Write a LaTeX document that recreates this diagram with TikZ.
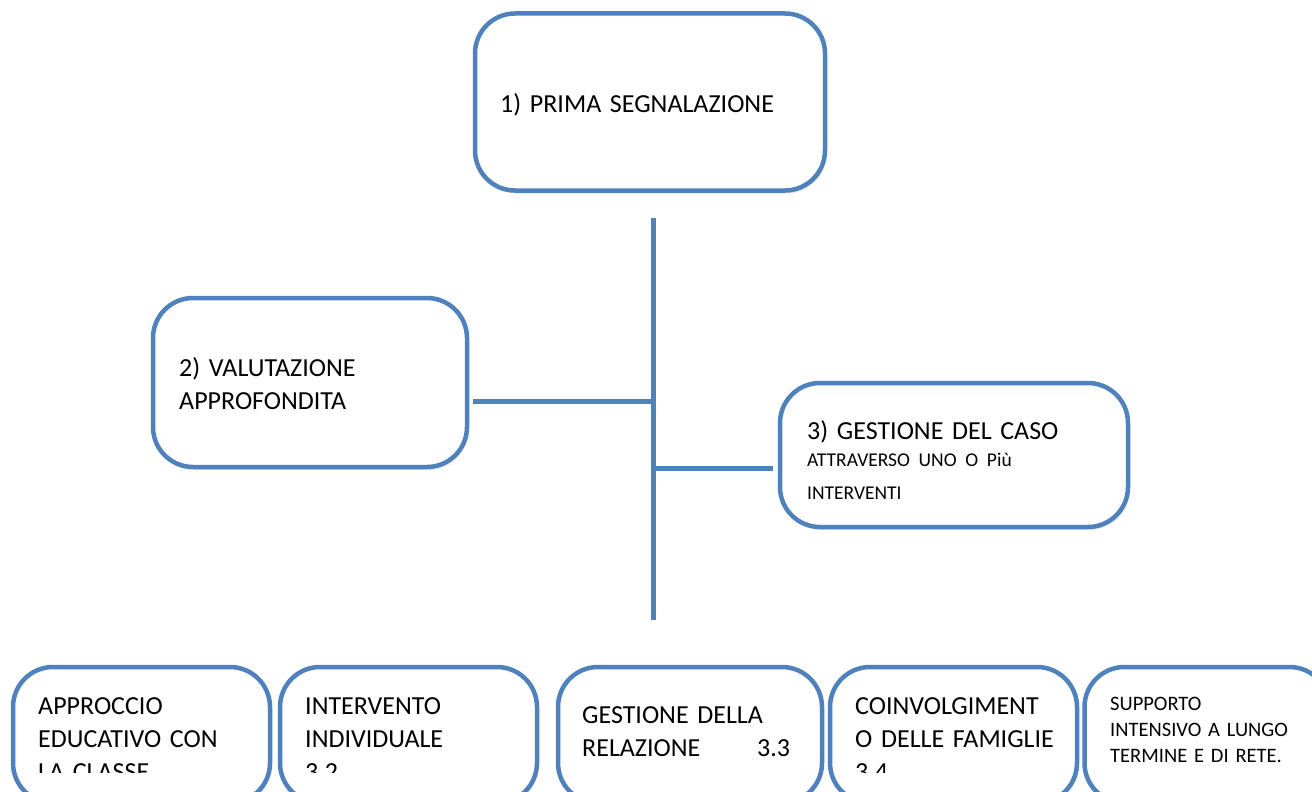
\documentclass[tikz,border=0pt]{standalone}
\usepackage{fontspec}
\setmainfont{Carlito}
\usetikzlibrary{shadows}
\definecolor{boxblue}{HTML}{4F81BD}
\begin{document}
\begin{tikzpicture}[x=1pt,y=-1pt,
  box/.style={draw=boxblue, line width=4.5pt, fill=white, rounded corners=40pt,
    inner sep=0pt, outer sep=0pt,
    drop shadow={shadow xshift=1.5pt, shadow yshift=-3pt, opacity=0.18}},
  conn/.style={draw=boxblue, line width=5pt},
  big/.style={font=\fontsize{26}{33}\selectfont, anchor=base west, align=left,
    inner sep=0pt, text width=#1},
  small/.style={font=\fontsize{20.5}{26}\selectfont, anchor=base west, align=left,
    inner sep=0pt, text width=#1},
]
\useasboundingbox (0,0) rectangle (1312,792);
\clip (0,0) rectangle (1312,792);

% boxes
\node[box, minimum width=350pt, minimum height=177pt] (b1) at (650,102) {};
\node[box, minimum width=314pt, minimum height=169pt] (b2) at (310,382.5) {};
\node[box, minimum width=348pt, minimum height=144pt] (b3) at (954,455) {};
\node[box, minimum width=257pt, minimum height=136pt] (c1) at (141.5,735) {};
\node[box, minimum width=257pt, minimum height=136pt] (c2) at (408.5,735) {};
\node[box, minimum width=264pt, minimum height=136pt] (c3) at (690,735) {};
\node[box, minimum width=247pt, minimum height=136pt] (c4) at (953.5,735) {};
\node[box, minimum width=245pt, minimum height=136pt] (c5) at (1207,735) {};

% connectors
\coordinate (vtop) at (653,218);
\coordinate (vbot) at (653,620);
\coordinate (j2) at (653,401);
\coordinate (j3) at (653,468);
\draw[conn] (vtop) -- (vbot);
\draw[conn] ([xshift=6pt]b2.east |- j2) -- (j2);
\draw[conn] (j3) -- ([xshift=-7pt]b3.west |- j3);

% texts
\node[big=300pt] (t1) at (500,112) {1) PRIMA SEGNALAZIONE};
\node[big=280pt] (t2) at (179,376) {2) VALUTAZIONE\\APPROFONDITA};
\node[big=320pt] (t3) at (807,439) {3) GESTIONE DEL CASO\par
  \fontsize{19.5}{27}\selectfont ATTRAVERSO UNO O Più\par\fontsize{19.5}{26}\selectfont INTERVENTI};

\begin{scope}
\clip (0,0) rectangle (1312,772);
\node[big=230pt] (u1) at (38,714) {APPROCCIO\\EDUCATIVO CON\\LA CLASSE};
\node[big=230pt] (u2) at (305,714) {INTERVENTO\\INDIVIDUALE\\3.2};
\node[big=240pt] (u3) at (582,723) {GESTIONE DELLA\\\makebox[175pt][l]{RELAZIONE}3.3};
\node[big=230pt] (u4) at (855,714) {COINVOLGIMENT\\O DELLE FAMIGLIE\\3.4};
\node[small=220pt] (u5) at (1110,710) {SUPPORTO\\INTENSIVO A LUNGO\\TERMINE E DI RETE.};
\end{scope}
\end{tikzpicture}
\end{document}
